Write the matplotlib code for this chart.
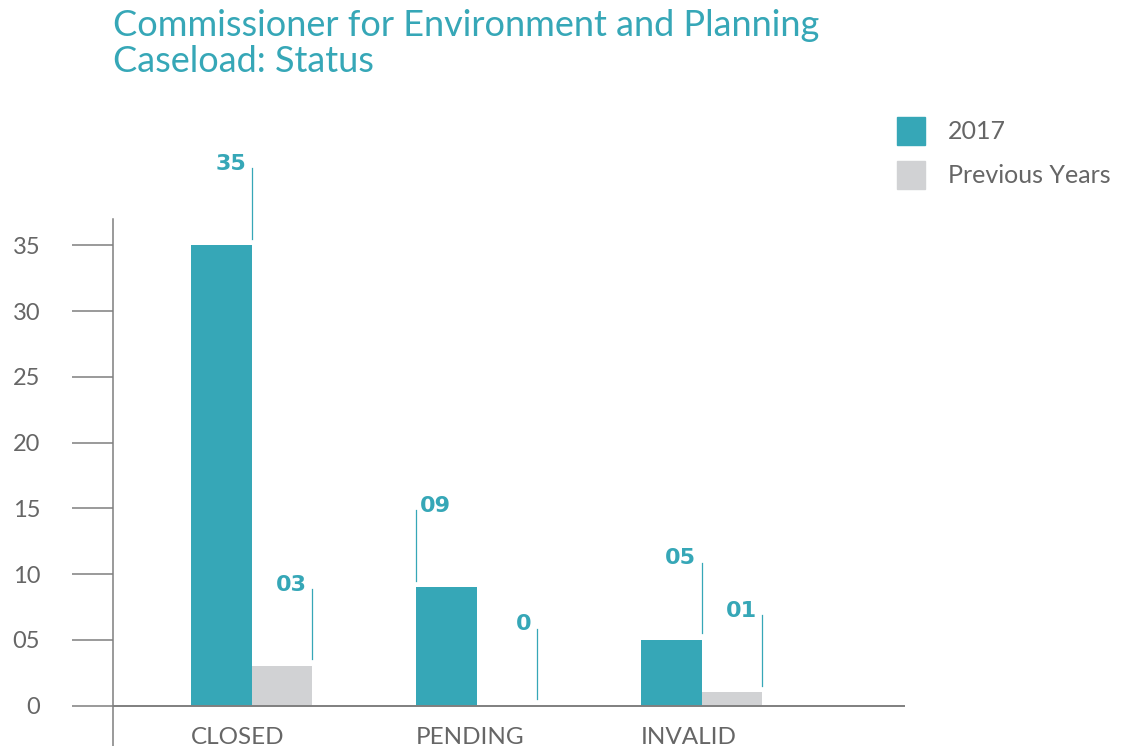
import matplotlib.pyplot as plt
from matplotlib.patches import Rectangle

# 字体与颜色
plt.rcParams['font.family'] = ['Lato', 'DejaVu Sans']
TEAL = '#36a7b7'
GREY_BAR = '#d1d2d4'
AXIS = '#7f7f7f'
TEXT = '#666666'

# 数据
categories = ['CLOSED', 'PENDING', 'INVALID']
series_names = ['2017', 'Previous Years']
cases_2017 = [35, 9, 5]
cases_prev = [3, 0, 1]
labels_2017 = ['35', '09', '05']
labels_prev = ['03', '0', '01']
yticks = [0, 5, 10, 15, 20, 25, 30, 35]
ytick_labels = ['0', '05', '10', '15', '20', '25', '30', '35']

fig = plt.figure(figsize=(11.22, 7.46), dpi=100)
ax = fig.add_axes([113 / 1122, 0, 792 / 1122, 527 / 746])

x = list(range(len(categories)))
w = 0.27
ax.bar([i - w / 2 for i in x], cases_2017, width=w, color=TEAL, zorder=2)
ax.bar([i + w / 2 for i in x], cases_prev, width=w, color=GREY_BAR, zorder=2)

ax.set_xlim(-0.616, 2.904)
ax.set_ylim(-3.08, 37)

# 坐标轴样式
for s in ['top', 'right', 'bottom']:
    ax.spines[s].set_visible(False)
ax.spines['left'].set_color(AXIS)
ax.spines['left'].set_linewidth(1.1)
ax.axhline(0, color=AXIS, lw=1.4, zorder=3)
ax.set_xticks([])
ax.set_yticks(yticks)
ax.set_yticklabels(ytick_labels)
ax.tick_params(axis='y', length=29.5, width=1.1, color=AXIS, pad=23,
               labelsize=17, labelcolor=TEXT)

# 类别标签，与第一根柱左对齐
for i, c in enumerate(categories):
    ax.text(i - w, -2.93, c, ha='left', va='baseline', fontsize=17.5,
            color=TEXT)

# 数值标注与引线
lo, hi = 0.5, 5.85
def tag(xl, v, s, side):
    ax.plot([xl, xl], [v + lo, v + hi], color=TEAL, lw=0.9, zorder=3, clip_on=False)
    dx, ha = (-4, 'right') if side == 'left' else (3, 'left')
    ax.annotate(s, (xl, v + hi), xytext=(dx, -1), textcoords='offset points',
                ha=ha, va='baseline', fontsize=16, fontweight='bold',
                color=TEAL, family='DejaVu Sans', annotation_clip=False)

for i in x:
    if i == 1:
        tag(i - w, cases_2017[i], labels_2017[i], 'right')
    else:
        tag(i, cases_2017[i], labels_2017[i], 'left')
    tag(i + w, cases_prev[i], labels_prev[i], 'left')

# 标题（两行）
fig.text(113 / 1122, 1 - 36 / 746, 'Commissioner for Environment and Planning',
         ha='left', va='baseline', fontsize=26, color=TEAL)
fig.text(113 / 1122, 1 - 72 / 746, 'Caseload: Status',
         ha='left', va='baseline', fontsize=26, color=TEAL)

# 图例
for k, (name, col) in enumerate(zip(series_names, [TEAL, GREY_BAR])):
    y0 = 117 + 44 * k
    fig.add_artist(Rectangle((897 / 1122, 1 - (y0 + 28) / 746), 28 / 1122, 28 / 746,
                             transform=fig.transFigure, color=col))
    fig.text(948 / 1122, 1 - (y0 + 22) / 746, name, ha='left', va='baseline',
             fontsize=18, color=TEXT)

fig.savefig('out.png', dpi=100)
